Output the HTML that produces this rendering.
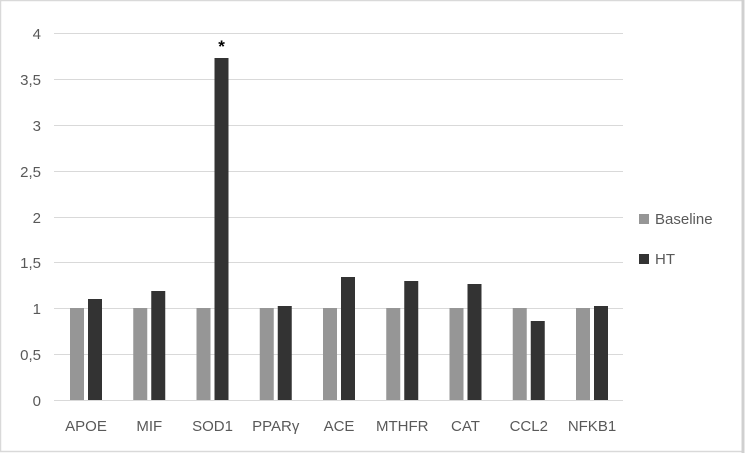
<!DOCTYPE html>
<html><head><style>body{margin:0;background:#fff}svg{display:block}</style></head><body>
<svg width="745" height="453" xmlns="http://www.w3.org/2000/svg" font-family="Liberation Sans, sans-serif">
<rect x="0.5" y="0.5" width="742" height="451" fill="#fff" stroke="#d9d9d9" stroke-width="1.5"/>
<line x1="743" y1="0" x2="743" y2="453" stroke="#d0d0d0" stroke-width="3"/>
<g stroke="#d9d9d9" stroke-width="1">
<line x1="54" y1="33.5" x2="623" y2="33.5"/><line x1="54" y1="79.5" x2="623" y2="79.5"/>
<line x1="54" y1="125.5" x2="623" y2="125.5"/><line x1="54" y1="171.5" x2="623" y2="171.5"/>
<line x1="54" y1="217.5" x2="623" y2="217.5"/><line x1="54" y1="262.5" x2="623" y2="262.5"/>
<line x1="54" y1="308.5" x2="623" y2="308.5"/><line x1="54" y1="354.5" x2="623" y2="354.5"/>
<line x1="54" y1="400.5" x2="623" y2="400.5"/>
</g>
<g font-size="15" fill="#595959" text-anchor="end">
<text x="41" y="39">4</text><text x="41" y="85">3,5</text><text x="41" y="131">3</text>
<text x="41" y="177">2,5</text><text x="41" y="223">2</text><text x="41" y="268">1,5</text>
<text x="41" y="314">1</text><text x="41" y="360">0,5</text><text x="41" y="406">0</text>
</g>
<g fill="#969696">
<rect x="70" y="308" width="14" height="92"/><rect x="133.25" y="308" width="14" height="92"/>
<rect x="196.5" y="308" width="14" height="92"/><rect x="259.75" y="308" width="14" height="92"/>
<rect x="323" y="308" width="14" height="92"/><rect x="386.25" y="308" width="14" height="92"/>
<rect x="449.5" y="308" width="14" height="92"/><rect x="512.75" y="308" width="14" height="92"/>
<rect x="576" y="308" width="14" height="92"/>
</g>
<g fill="#333333">
<rect x="88" y="299" width="14" height="101"/><rect x="151.25" y="291" width="14" height="109"/>
<rect x="214.5" y="58" width="14" height="342"/><rect x="277.75" y="306" width="14" height="94"/>
<rect x="341" y="277" width="14" height="123"/><rect x="404.25" y="281" width="14" height="119"/>
<rect x="467.5" y="284" width="14" height="116"/><rect x="530.75" y="321" width="14" height="79"/>
<rect x="594" y="306" width="14" height="94"/>
</g>
<text x="221.5" y="52" font-size="17" font-weight="bold" text-anchor="middle" fill="#000">*</text>
<g font-size="15" fill="#595959" text-anchor="middle">
<text x="86" y="431">APOE</text><text x="149.25" y="431">MIF</text><text x="212.5" y="431">SOD1</text>
<text x="275.75" y="431">PPARγ</text><text x="339" y="431">ACE</text><text x="402.25" y="431">MTHFR</text>
<text x="465.5" y="431">CAT</text><text x="528.75" y="431">CCL2</text><text x="592" y="431">NFKB1</text>
</g>
<rect x="639" y="214" width="10" height="10" fill="#969696"/>
<text x="655" y="224" font-size="15" fill="#595959">Baseline</text>
<rect x="639" y="254" width="10" height="10" fill="#333333"/>
<text x="655" y="264" font-size="15" fill="#595959">HT</text>
</svg>
</body></html>
